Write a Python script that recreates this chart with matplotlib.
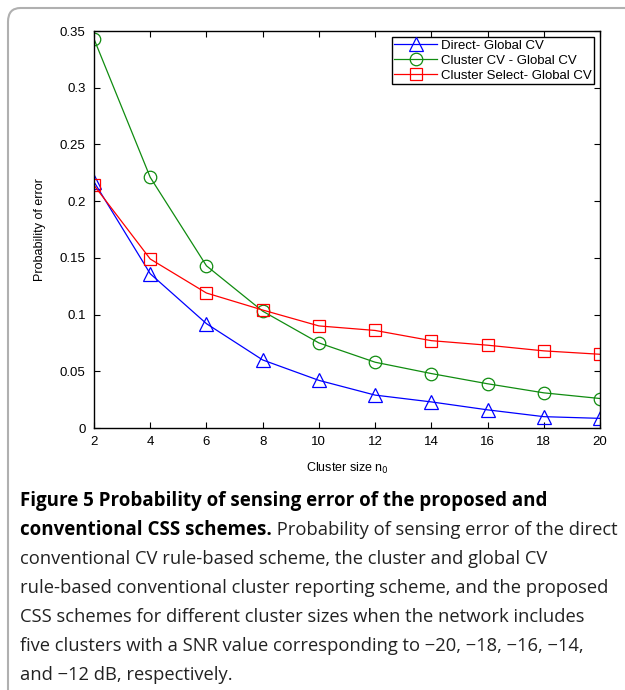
import matplotlib
matplotlib.use("Agg")
import matplotlib.pyplot as plt
from matplotlib.patches import FancyBboxPatch

# cluster sizes and error probabilities for each scheme
cluster_size = [2, 4, 6, 8, 10, 12, 14, 16, 18, 20]
direct_global = [0.217, 0.136, 0.092, 0.060, 0.042, 0.029, 0.023, 0.016, 0.010, 0.0085]
cluster_cv_global = [0.343, 0.221, 0.143, 0.103, 0.075, 0.058, 0.048, 0.039, 0.031, 0.026]
cluster_select_global = [0.214, 0.149, 0.119, 0.104, 0.090, 0.086, 0.077, 0.073, 0.068, 0.065]

y_ticks = [0, 0.05, 0.1, 0.15, 0.2, 0.25, 0.3, 0.35]
y_tick_labels = ["0", "0.05", "0.1", "0.15", "0.2", "0.25", "0.3", "0.35"]

caption_bold = ["Figure 5 Probability of sensing error of the proposed and",
                "conventional CSS schemes."]
caption_rest = [" Probability of sensing error of the direct",
                "conventional CV rule-based scheme, the cluster and global CV",
                "rule-based conventional cluster reporting scheme, and the proposed",
                "CSS schemes for different cluster sizes when the network includes",
                "five clusters with a SNR value corresponding to \u221220, \u221218, \u221216, \u221214,",
                "and \u221212 dB, respectively."]

plt.rcParams['font.family'] = ['Liberation Sans', 'DejaVu Sans']

fig = plt.figure(figsize=(6.25, 6.9), dpi=100)

# rounded frame around the figure panel
frame = FancyBboxPatch((8 / 625, -0.2), 1.2, 1.2 - 8 / 690,
                       boxstyle="round,pad=0,rounding_size=0.02",
                       transform=fig.transFigure, fill=False,
                       edgecolor="#b0b0b0", linewidth=1.5, clip_on=False)
fig.patches.append(frame)

ax = fig.add_axes([94 / 625, 1 - 428 / 690, (600 - 94) / 625, (428 - 31) / 690])

ax.plot(cluster_size, direct_global, color="#0000ff", marker="^", markersize=10,
        markerfacecolor="none", markeredgewidth=0.9, linewidth=0.9,
        label="Direct- Global CV")
ax.plot(cluster_size, cluster_cv_global, color="#108c10", marker="o", markersize=9,
        markerfacecolor="none", markeredgewidth=0.9, linewidth=0.9,
        label="Cluster CV - Global CV")
ax.plot(cluster_size, cluster_select_global, color="#ff0000", marker="s", markersize=8,
        markerfacecolor="none", markeredgewidth=0.9, linewidth=0.9,
        label="Cluster Select- Global CV")

ax.set_xlim(2, 20)
ax.set_ylim(0, 0.35)
ax.set_xticks(cluster_size)
ax.set_yticks(y_ticks)
ax.set_yticklabels(y_tick_labels)
ax.tick_params(direction="in", top=True, right=True, labelsize=9.5, length=4, pad=6)
for s in ax.spines.values():
    s.set_linewidth(1.0)

ax.set_xlabel("Cluster size n$_0$", fontsize=9, labelpad=9)
ax.set_ylabel("Probability of error", fontsize=9, labelpad=10)

leg = ax.legend(loc="upper right", fontsize=9.5, fancybox=False, framealpha=1,
                edgecolor="black", borderpad=0.2, labelspacing=0.2,
                handlelength=3.2, handletextpad=0.3, borderaxespad=0.45)
leg.get_frame().set_linewidth(1.0)

# caption below the chart, bold lead-in then regular text
x0 = 20 / 625
line_y = [506, 535, 564, 593, 622, 651, 680]
cap_size = 13.2
bold_size = 13.5
renderer = fig.canvas.get_renderer()
for i, y in enumerate(line_y):
    yf = 1 - y / 690
    if i < len(caption_bold):
        t = fig.text(x0, yf, caption_bold[i], fontsize=bold_size, fontweight="bold",
                     family=["Open Sans", "DejaVu Sans"], va="baseline", ha="left")
        if i == 1:
            bb = t.get_window_extent(renderer=renderer)
            fig.text(bb.x1 / fig.bbox.width, yf, caption_rest[0], fontsize=cap_size,
                     family=["Open Sans", "DejaVu Sans"], va="baseline", ha="left",
                     color="#222222")
    else:
        fig.text(x0, yf, caption_rest[i - 1], fontsize=cap_size,
                 family=["Open Sans", "DejaVu Sans"], va="baseline", ha="left",
                 color="#222222")

fig.savefig("out.png", dpi=100)
